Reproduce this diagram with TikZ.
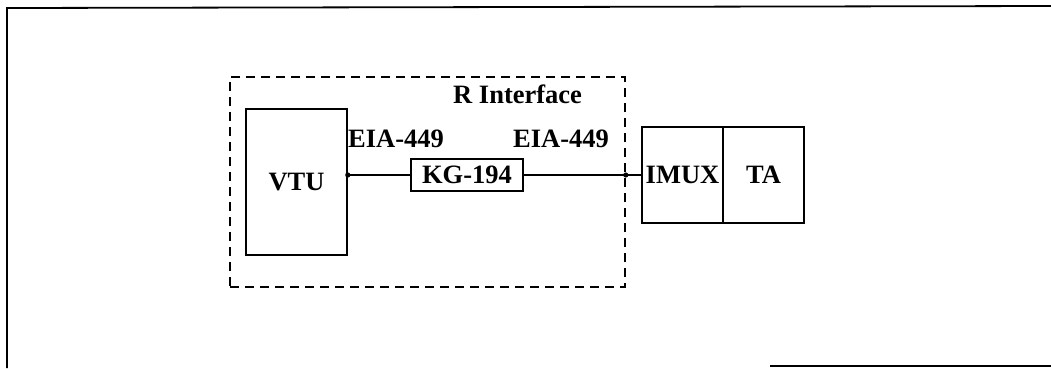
\documentclass[tikz,border=0pt]{standalone}
\usepackage{fontspec}
\setmainfont{Liberation Serif}
\begin{document}
\begin{tikzpicture}[x=1pt,y=-1pt,
  box/.style={draw,line width=1.6pt,inner sep=0pt,font=\fontsize{26.5}{31}\selectfont\bfseries},
  lbl/.style={inner sep=0pt,font=\fontsize{26.5}{31}\selectfont\bfseries},
  wire/.style={line width=2.8pt},
  dashbox/.style={draw,dashed,dash pattern=on 9pt off 6pt,line width=1.6pt,inner sep=0pt}]
\useasboundingbox (0,0) rectangle (1051,368);
\draw[line width=1.8pt] (7,368) -- (7,8) -- (1051,6);
\draw[line width=1.4pt] (770,366) -- (1051,366);
\node[dashbox,minimum width=395pt,minimum height=210pt] (rif) at (427.5,182) {};
\node[box,minimum width=101pt,minimum height=146pt] (vtu) at (296.5,182) {VTU};
\node[box,minimum width=112pt,minimum height=32pt] (kg) at (467,175) {KG-194};
\node[box,minimum width=81pt,minimum height=96pt] (imux) at (682.5,175) {IMUX};
\node[box,minimum width=81pt,minimum height=96pt] (ta) at (763.5,175) {TA};
\node[lbl,anchor=base west] (rlab) at (453,103) {R Interface};
\node[lbl,anchor=base west] (eia1) at (348,147) {EIA-449};
\node[lbl,anchor=base west] (eia2) at (513,147) {EIA-449};
\coordinate (v) at (vtu.east |- kg.west);
\coordinate (c) at (rif.east |- kg.east);
\draw[wire] (v) -- (kg.west);
\draw[wire] (kg.east) -- (imux.west);
\fill (v) circle (2.6pt);
\fill (c) circle (2.6pt);
\end{tikzpicture}
\end{document}
